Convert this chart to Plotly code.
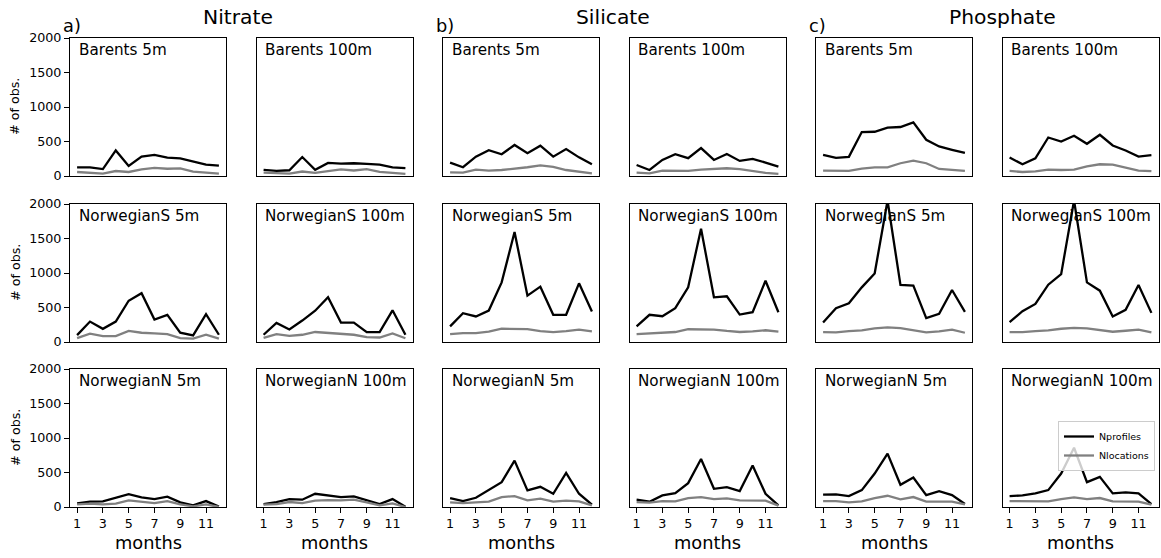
import plotly.graph_objects as go

W, H = 1161, 558

months = list(range(1, 13))
month_ticks = [1, 3, 5, 7, 9, 11]
y_ticks = [0, 500, 1000, 1500, 2000]

nutrients = ["Nitrate", "Silicate", "Phosphate"]
panel_letters = ["a)", "b)", "c)"]
regions = ["Barents", "NorwegianS", "NorwegianN"]
depths = ["5m", "100m"]

# ---- Nitrate ----
no3_bar5_prof = [125, 125, 100, 370, 145, 280, 305, 265, 255, 215, 165, 150]
no3_bar5_loc = [58, 42, 35, 72, 58, 95, 118, 105, 110, 62, 45, 35]
no3_bar100_prof = [88, 75, 83, 275, 90, 190, 180, 185, 175, 165, 125, 115]
no3_bar100_loc = [50, 40, 35, 65, 45, 70, 95, 80, 100, 60, 40, 30]
no3_ns5_prof = [100, 296, 191, 296, 598, 707, 325, 392, 134, 96, 402, 105]
no3_ns5_loc = [57, 120, 86, 86, 162, 134, 124, 115, 57, 48, 105, 48]
no3_ns100_prof = [105, 277, 182, 311, 454, 650, 282, 282, 143, 143, 459, 105]
no3_ns100_loc = [60, 115, 90, 105, 145, 135, 120, 105, 70, 65, 125, 55]
no3_nn5_prof = [53, 77, 82, 139, 187, 139, 115, 149, 67, 24, 86, 5]
no3_nn5_loc = [38, 48, 38, 48, 96, 77, 57, 86, 38, 10, 38, 0]
no3_nn100_prof = [43, 72, 115, 106, 192, 168, 144, 154, 96, 43, 115, 5]
no3_nn100_loc = [33, 43, 72, 57, 91, 100, 96, 106, 67, 24, 52, 0]

# ---- Silicate ----
sil_bar5_prof = [195, 127, 280, 375, 315, 450, 330, 440, 280, 390, 270, 170]
sil_bar5_loc = [53, 48, 92, 78, 87, 102, 127, 155, 131, 87, 63, 39]
sil_bar100_prof = [160, 87, 233, 315, 258, 405, 233, 320, 219, 248, 195, 136]
sil_bar100_loc = [48, 38, 78, 73, 75, 92, 102, 112, 100, 70, 45, 30]
sil_ns5_prof = [226, 418, 370, 456, 864, 1594, 672, 802, 394, 394, 850, 442]
sil_ns5_loc = [115, 130, 130, 149, 192, 192, 187, 158, 144, 158, 178, 154]
sil_ns100_prof = [226, 394, 374, 490, 792, 1642, 648, 662, 398, 432, 888, 432]
sil_ns100_loc = [115, 125, 125, 145, 185, 185, 180, 160, 145, 155, 170, 150]
sil_nn5_prof = [130, 86, 134, 250, 360, 672, 240, 293, 192, 494, 192, 34]
sil_nn5_loc = [67, 57, 67, 77, 144, 158, 96, 120, 77, 91, 82, 24]
sil_nn100_prof = [106, 77, 168, 202, 346, 696, 264, 288, 230, 600, 192, 24]
sil_nn100_loc = [72, 62, 86, 82, 130, 144, 115, 125, 96, 96, 91, 20]

# ---- Phosphate ----
po4_bar5_prof = [306, 262, 277, 637, 641, 700, 710, 778, 525, 428, 380, 335]
po4_bar5_loc = [78, 73, 73, 107, 126, 126, 185, 223, 185, 102, 83, 73]
po4_bar100_prof = [267, 170, 257, 558, 500, 583, 467, 597, 442, 370, 282, 301]
po4_bar100_loc = [73, 58, 68, 92, 87, 92, 140, 170, 165, 120, 78, 70]
po4_ns5_prof = [283, 490, 562, 792, 994, 2050, 826, 816, 346, 408, 754, 437]
po4_ns5_loc = [144, 139, 158, 168, 197, 211, 202, 173, 139, 154, 178, 134]
po4_ns100_prof = [288, 446, 552, 830, 984, 2050, 864, 744, 370, 466, 826, 422]
po4_ns100_loc = [144, 144, 158, 168, 192, 206, 197, 178, 149, 163, 178, 139]
po4_nn5_prof = [178, 182, 158, 245, 485, 773, 322, 427, 173, 230, 173, 43]
po4_nn5_loc = [86, 86, 67, 82, 130, 163, 110, 144, 77, 82, 77, 38]
po4_nn100_prof = [158, 168, 197, 245, 485, 859, 360, 437, 197, 211, 197, 43]
po4_nn100_loc = [86, 86, 82, 82, 115, 139, 115, 130, 82, 82, 77, 34]

# grid[row][col] = (profiles, locations)
grid = [
    [(no3_bar5_prof, no3_bar5_loc), (no3_bar100_prof, no3_bar100_loc),
     (sil_bar5_prof, sil_bar5_loc), (sil_bar100_prof, sil_bar100_loc),
     (po4_bar5_prof, po4_bar5_loc), (po4_bar100_prof, po4_bar100_loc)],
    [(no3_ns5_prof, no3_ns5_loc), (no3_ns100_prof, no3_ns100_loc),
     (sil_ns5_prof, sil_ns5_loc), (sil_ns100_prof, sil_ns100_loc),
     (po4_ns5_prof, po4_ns5_loc), (po4_ns100_prof, po4_ns100_loc)],
    [(no3_nn5_prof, no3_nn5_loc), (no3_nn100_prof, no3_nn100_loc),
     (sil_nn5_prof, sil_nn5_loc), (sil_nn100_prof, sil_nn100_loc),
     (po4_nn5_prof, po4_nn5_loc), (po4_nn100_prof, po4_nn100_loc)],
]

# layout geometry (pixels)
col_left = [70, 256.5, 443, 629.5, 816, 1002.5]
col_w = 156
row_top = [38, 204, 369]
row_h = 138

FONT = "DejaVu Sans"

fig = go.Figure()
layout = dict(
    width=W, height=H,
    margin=dict(l=0, r=0, t=0, b=0, pad=0),
    paper_bgcolor="white", plot_bgcolor="white",
    font=dict(family=FONT, color="black"),
    showlegend=True,
    legend=dict(
        x=1058 / W, y=1 - 421 / H, xanchor="left", yanchor="top",
        bgcolor="rgba(255,255,255,0.8)", bordercolor="#cccccc", borderwidth=1,
        font=dict(family=FONT, size=9.5, color="black"),
        itemwidth=30, tracegroupgap=0,
    ),
)
annotations = []

for r in range(3):
    for c in range(6):
        k = r * 6 + c + 1
        xa = "x" if k == 1 else f"x{k}"
        ya = "y" if k == 1 else f"y{k}"
        prof, loc = grid[r][c]
        first = (k == 1)
        fig.add_trace(go.Scatter(
            x=months, y=prof, mode="lines", xaxis=xa, yaxis=ya,
            line=dict(color="black", width=2.3), name="Nprofiles",
            showlegend=first, legendgroup="p", hoverinfo="skip"))
        fig.add_trace(go.Scatter(
            x=months, y=loc, mode="lines", xaxis=xa, yaxis=ya,
            line=dict(color="#808080", width=2.3), name="Nlocations",
            showlegend=first, legendgroup="l", hoverinfo="skip"))

        x0 = col_left[c] / W
        x1 = (col_left[c] + col_w) / W
        y1 = 1 - row_top[r] / H
        y0 = 1 - (row_top[r] + row_h) / H
        bottom = (r == 2)
        left = (c == 0)
        xkey = "xaxis" if k == 1 else f"xaxis{k}"
        ykey = "yaxis" if k == 1 else f"yaxis{k}"
        layout[xkey] = dict(
            domain=[x0, x1], anchor=ya, range=[0.45, 12.55],
            automargin=False,
            showgrid=False, zeroline=False,
            showline=True, mirror=True, linecolor="black", linewidth=1,
            tickvals=month_ticks if bottom else [],
            ticks="outside" if bottom else "", ticklen=5, tickcolor="black",
            showticklabels=bottom,
            tickfont=dict(family=FONT, size=12.7, color="black"),
            fixedrange=True,
        )
        layout[ykey] = dict(
            domain=[y0, y1], anchor=xa, range=[0, 2000],
            automargin=False,
            showgrid=False, zeroline=False,
            showline=True, mirror=True, linecolor="black", linewidth=1,
            tickvals=y_ticks if left else [],
            ticks="outside" if left else "", ticklen=5, tickcolor="black",
            showticklabels=left,
            tickfont=dict(family=FONT, size=12.7, color="black"),
            fixedrange=True,
        )
        # panel label
        label = f"{regions[r]} {depths[c % 2]}"
        annotations.append(dict(
            text=label, xref="paper", yref="paper",
            x=(col_left[c] + 6.5) / W, y=1 - (row_top[r] + 0.5) / H,
            xanchor="left", yanchor="top", showarrow=False,
            font=dict(family=FONT, size=15.2, color="black")))
        if bottom:
            annotations.append(dict(
                text="months", xref="paper", yref="paper",
                x=(col_left[c] + col_w / 2) / W, y=1 - 542.5 / H,
                xanchor="center", yanchor="middle", showarrow=False,
                font=dict(family=FONT, size=17.8, color="black")))
    annotations.append(dict(
        text="# of obs.", xref="paper", yref="paper",
        x=15 / W, y=1 - (row_top[r] + row_h / 2) / H,
        xanchor="center", yanchor="middle", textangle=-90, showarrow=False,
        font=dict(family=FONT, size=12.7, color="black")))

for i, name in enumerate(nutrients):
    base = col_left[2 * i]
    annotations.append(dict(
        text=name, xref="paper", yref="paper",
        x=(base + 131) / W, y=1 - 17 / H,
        xanchor="left", yanchor="middle", showarrow=False,
        font=dict(family=FONT, size=20.3, color="black")))
    annotations.append(dict(
        text=panel_letters[i], xref="paper", yref="paper",
        x=(base - 9) / W, y=1 - 25 / H,
        xanchor="left", yanchor="middle", showarrow=False,
        font=dict(family=FONT, size=17.8, color="black")))

layout["annotations"] = annotations
fig.update_layout(**layout)
fig.write_html(
    "out.html",
    config={"displayModeBar": False},
    post_script=(
        "document.documentElement.style.margin='0';"
        "document.documentElement.style.padding='0';"
        "document.documentElement.style.overflow='hidden';"
        "document.body.style.margin='0';"
        "document.body.style.padding='0';"
        "document.body.style.overflow='hidden';"
    ),
)
